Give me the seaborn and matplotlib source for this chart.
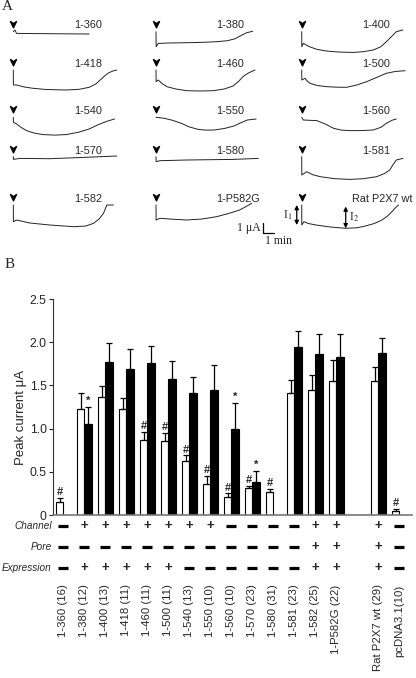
import numpy as np
import pandas as pd
import matplotlib
matplotlib.use('Agg')
import matplotlib.pyplot as plt
from matplotlib.path import Path
import seaborn as sns

sns.set_style('white')
plt.rcParams['font.family'] = ['Liberation Sans', 'DejaVu Sans']
plt.rcParams['mathtext.fontset'] = 'stix'

# ---------------- panel A: current traces, time (min) / current (uA)
t_360 = [0, 0.15, 0.3, 3.3, 6.9]
i_360 = [0, 0.17, -0.17, -0.2, -0.23]
t_380 = [0, 0.01, 0.2, 1.5, 3.0, 4.5, 5.5, 6.5, 7.2, 7.7, 8.2, 8.8]
i_380 = [0, -1.5, -1.17, -1.12, -1.1, -1.05, -1.0, -0.9, -0.7, -0.4, -0.12, 0.05]
t_400 = [0, 0.01, 0.15, 0.7, 1.4, 2.2, 2.9, 3.8, 4.7, 5.6, 6.5, 7.2, 7.7, 8.2, 8.6, 9.2]
i_400 = [0, -1.5, -1.17, -1.5, -1.77, -1.92, -2.0, -2.05, -2.07, -2.0, -1.83, -1.5, -1.0, -0.45, 0, 0.17]
t_418 = [0, 0.01, 0.3, 1.0, 1.8, 3.0, 4.8, 6.0, 6.9, 7.5, 7.9, 8.3, 8.6, 9.0, 9.4]
i_418 = [0, -1.5, -1.5, -1.7, -1.83, -1.95, -2.0, -1.93, -1.73, -1.4, -1.0, -0.6, -0.33, -0.12, 0]
t_460 = [0, 0.01, 0.2, 0.6, 1.0, 1.8, 2.8, 4.0, 5.2, 6.2, 7.0, 7.5, 7.9, 8.4, 9.0]
i_460 = [0, -1.17, -1.0, -1.4, -1.67, -1.9, -2.07, -2.1, -2.07, -1.9, -1.6, -1.15, -0.67, -0.3, 0]
t_500 = [0, 0.01, 0.3, 0.5, 0.75, 1.4, 2.3, 3.2, 4.1, 5.0, 5.9, 6.8, 7.7, 8.5, 9.4]
i_500 = [0, -1.0, -0.83, -1.1, -1.33, -1.55, -1.67, -1.72, -1.73, -1.5, -1.17, -0.75, -0.33, -0.15, -0.07]
t_540 = [0, 0.01, 0.3, 0.7, 1.2, 1.9, 2.7, 3.8, 4.8, 5.9, 6.9, 7.7, 8.5, 9.2]
i_540 = [0, -0.5, -0.67, -1.0, -1.33, -1.58, -1.73, -1.78, -1.73, -1.5, -1.17, -0.75, -0.4, -0.17]
t_550 = [0, 0.75, 1.5, 2.3, 3.0, 3.8, 4.5, 5.3, 6.2, 7.1, 7.7, 8.3, 9.1]
i_550 = [0, -0.1, -0.3, -0.6, -0.95, -1.2, -1.28, -1.27, -1.12, -0.87, -0.55, -0.27, -0.17]
t_560 = [0, 0.15, 0.7, 1.36, 2.1, 2.9, 3.6, 4.4, 5.4, 6.5, 7.2, 7.7, 8.2, 8.6]
i_560 = [0, -0.27, -0.3, -0.33, -0.65, -1.1, -1.28, -1.33, -1.33, -1.27, -1.0, -0.6, -0.3, -0.17]
t_570 = [0, 0.01, 0.6, 3.3, 6.4, 9.4]
i_570 = [0, -0.27, -0.17, -0.2, -0.07, 0.07]
t_580 = [0, 0.01, 0.36, 2.8, 7.0, 9.3]
i_580 = [0, -0.5, -0.4, -0.33, -0.27, -0.17]
t_581 = [0, 0.01, 0.45, 1.0, 1.7, 3.0, 4.4, 5.6, 6.8, 7.5, 8.0, 8.3, 8.6, 9.2]
i_581 = [0, -1.83, -1.5, -1.8, -2.0, -2.2, -2.27, -2.2, -2.0, -1.7, -1.33, -0.8, -0.33, -0.17]
t_582 = [0, 0.01, 0.3, 1.5, 3.3, 5.5, 6.6, 7.3, 7.8, 8.2, 8.5, 9.1]
i_582 = [0, -1.67, -1.5, -1.8, -2.0, -2.17, -2.1, -1.83, -1.4, -0.83, 0, 0]
t_p582g = [0, 0.01, 0.36, 1.5, 2.8, 4.2, 5.5, 6.6, 7.6, 8.2, 8.7]
i_p582g = [0, -1.5, -1.33, -1.42, -1.5, -1.4, -1.17, -0.85, -0.5, -0.15, 0.17]
t_rat = [0, 0.01, 0.2, 0.6, 1.3, 2.6, 4.0, 5.0, 5.8, 6.6, 7.3, 7.8, 8.2, 8.5, 8.8]
i_rat = [0, -2.0, -1.67, -1.85, -2.0, -2.2, -2.33, -2.28, -2.1, -1.85, -1.5, -1.1, -0.67, -0.3, 0]

traces = [
    [('1-360', t_360, i_360), ('1-380', t_380, i_380), ('1-400', t_400, i_400)],
    [('1-418', t_418, i_418), ('1-460', t_460, i_460), ('1-500', t_500, i_500)],
    [('1-540', t_540, i_540), ('1-550', t_550, i_550), ('1-560', t_560, i_560)],
    [('1-570', t_570, i_570), ('1-580', t_580, i_580), ('1-581', t_581, i_581)],
    [('1-582', t_582, i_582), ('1-P582G', t_p582g, i_p582g), ('Rat P2X7 wt', t_rat, i_rat)],
]
agonist_on = 0.0

# ---------------- panel B: peak currents
tick_labels = ['1-360 (16)', '1-380 (12)', '1-400 (13)', '1-418 (11)', '1-460 (11)',
               '1-500 (11)', '1-540 (13)', '1-550 (10)', '1-560 (10)', '1-570 (23)',
               '1-580 (31)', '1-581 (23)', '1-582 (25)', '1-P582G (22)',
               'Rat P2X7 wt (29)', 'pcDNA3.1(10)']
i1_mean = [0.15, 1.23, 1.36, 1.23, 0.87, 0.86, 0.63, 0.355, 0.205, 0.31, 0.27, 1.415, 1.45, 1.555, 1.555, 0.05]
i1_sem = [0.05, 0.18, 0.13, 0.12, 0.09, 0.09, 0.06, 0.10, 0.045, 0.03, 0.03, 0.145, 0.17, 0.235, 0.155, 0.025]
i2_mean = [np.nan, 1.05, 1.77, 1.69, 1.76, 1.57, 1.41, 1.45, 1.00, 0.38, np.nan, 1.95, 1.86, 1.825, 1.88, np.nan]
i2_sem = [np.nan, 0.20, 0.22, 0.23, 0.20, 0.21, 0.19, 0.29, 0.30, 0.13, np.nan, 0.18, 0.23, 0.275, 0.17, np.nan]
i1_mark = ['#', '', '', '', '#', '#', '#', '#', '#', '#', '#', '', '', '', '', '#']
i2_mark = ['', '*', '', '', '', '', '', '', '*', '*', '', '', '', '', '', '']
channel = ['-', '+', '+', '+', '+', '+', '+', '+', '-', '-', '-', '-', '+', '+', '+', '-']
pore = ['-', '-', '-', '-', '-', '-', '-', '-', '-', '-', '-', '-', '+', '+', '+', '-']
expression = ['-', '+', '+', '+', '+', '+', '-', '-', '-', '-', '-', '-', '+', '+', '+', '-']

W, H = 416, 678
fig = plt.figure(figsize=(W / 100, H / 100), dpi=100)


def px_axes(left, top, width, height):
    return fig.add_axes([left / W, 1 - (top + height) / H, width / W, height / H])


arrow_marker = Path([(0, -1), (-0.9, 0.9), (0, 0.25), (0.9, 0.9), (0, -1)],
                    [Path.MOVETO, Path.LINETO, Path.LINETO, Path.LINETO, Path.CLOSEPOLY])

col_x0 = [13.3, 156, 301.7]
row_base = [31.7, 70, 117.3, 156.7, 205]
trace_axes = {}
for r, row in enumerate(traces):
    for c, (name, t, cur) in enumerate(row):
        ax = px_axes(col_x0[c] - 5.5, row_base[r] - 14, 115.5, 40)
        sns.lineplot(x=t, y=cur, sort=False, estimator=None, color='#222222', lw=0.7, ax=ax)
        ax.plot([agonist_on], [0.8], marker=arrow_marker, ms=4.8, color='black', clip_on=False)
        lx = 4.6 if name.startswith('Rat') else 5.5
        ax.text(lx, 0.62, name, va='center', ha='left', fontsize=7.8)
        ax.set_xlim(-0.5, 10)
        ax.set_ylim(-2.6, 1.4)
        ax.axis('off')
        trace_axes[name] = ax

# scale bar
ax = trace_axes['1-P582G']
sx, sy = 9.7, -2.75
ax.plot([sx, sx, sx + 1], [sy + 1, sy, sy], color='black', lw=0.9, clip_on=False)
ax.text(sx - 0.2, sy + 0.5, '1 μA', ha='right', va='center', fontsize=8.5, family='Liberation Serif')
ax.text(sx + 1.4, sy - 0.3, '1 min', ha='center', va='top', fontsize=8.5, family='Liberation Serif')

# I1 / I2 arrows on the rat trace
ax = trace_axes['Rat P2X7 wt']
ap = dict(arrowstyle='<|-|>', lw=0.9, mutation_scale=6, shrinkA=0, shrinkB=0, color='black')
ax.annotate('', xy=(-0.45, i_rat[1]), xytext=(-0.45, 0), arrowprops=ap, annotation_clip=False)
k2 = int(np.argmin(i_rat[2:])) + 2
ax.annotate('', xy=(t_rat[k2], i_rat[k2]), xytext=(t_rat[k2], -0.15), arrowprops=ap)
ax.text(-0.85, i_rat[1] / 2, 'I$_1$', ha='right', va='center', fontsize=8.5, family='Liberation Serif')
ax.text(t_rat[k2] + 0.3, i_rat[k2] / 2 - 0.1, 'I$_2$', ha='left', va='center', fontsize=8.5,
        family='Liberation Serif')

fig.text(2 / W, 1 - 7 / H, 'A', va='center', ha='left', fontsize=11, family='Liberation Serif')
fig.text(5 / W, 1 - 265 / H, 'B', va='center', ha='left', fontsize=11, family='Liberation Serif')

# ---------------- bar chart
rows = []
for name, a, b in zip(tick_labels, i1_mean, i2_mean):
    rows.append((name, 'I1', a))
    rows.append((name, 'I2', b))
df = pd.DataFrame(rows, columns=['construct', 'peak', 'current'])
order = tick_labels[:14] + [' '] + tick_labels[14:]

ax = px_axes(53, 299, 359, 216)
sns.barplot(data=df, x='construct', y='current', hue='peak', order=order,
            palette={'I1': 'white', 'I2': 'black'}, edgecolor='black', linewidth=0.8,
            width=0.72, errorbar=None, legend=False, ax=ax)

sem = {'I1': dict(zip(tick_labels, i1_sem)), 'I2': dict(zip(tick_labels, i2_sem))}
marks = {'I1': dict(zip(tick_labels, i1_mark)), 'I2': dict(zip(tick_labels, i2_mark))}
for level, cont in zip(['I1', 'I2'], ax.containers):
    for bar in cont:
        xc = bar.get_x() + bar.get_width() / 2
        h = bar.get_height()
        if np.isnan(h):
            continue
        name = order[int(round(xc))]
        s = sem[level][name]
        ax.errorbar(xc, h, yerr=[[0], [s]], fmt='none', ecolor='black', elinewidth=0.9,
                    capsize=2.2, capthick=0.9)
        m = marks[level][name]
        if m:
            ax.text(xc, h + s + 0.01, m, ha='center', va='bottom', fontsize=8, fontweight='bold')

ax.set_xlim(-0.5, 16.6)
ax.set_ylim(0, 2.5)
ax.set_yticks([0, 0.5, 1.0, 1.5, 2.0, 2.5])
ax.set_yticklabels(['0', '0.5', '1.0', '1.5', '2.0', '2.5'], fontsize=8.8)
ax.tick_params(axis='y', length=3, width=0.8, pad=1.5, left=True)
ax.tick_params(axis='x', length=0, pad=50, labelsize=8.2)
ax.set_xticks(range(len(order)))
ax.set_xticklabels(order, rotation=90)
ax.set_xlabel('')
ax.set_ylabel('Peak current μA', fontsize=9.5)
ax.yaxis.set_label_coords(-0.072, 0.45)
sns.despine(ax=ax)
ax.spines['left'].set_color('#333333')
ax.spines['left'].set_linewidth(0.8)
ax.spines['bottom'].set_color('#777777')
ax.spines['bottom'].set_linewidth(1.2)

tr = ax.get_xaxis_transform()
for label, signs, yy in [('Channel', channel, -0.052), ('Pore', pore, -0.148),
                         ('Expression', expression, -0.247)]:
    ax.text(-0.003, yy, label, transform=ax.transAxes, ha='right', va='center',
            fontsize=7.2, style='italic')
    for k, sg in enumerate(signs):
        pos = order.index(tick_labels[k])
        if sg == '+':
            ax.text(pos, yy, '+', transform=tr, ha='center', va='center',
                    fontsize=9.5, fontweight='bold')
        else:
            ax.plot([pos], [yy], transform=tr, marker='_', ms=6.5, mew=2.3,
                    color='black', clip_on=False)

fig.savefig('out.png', dpi=100)
